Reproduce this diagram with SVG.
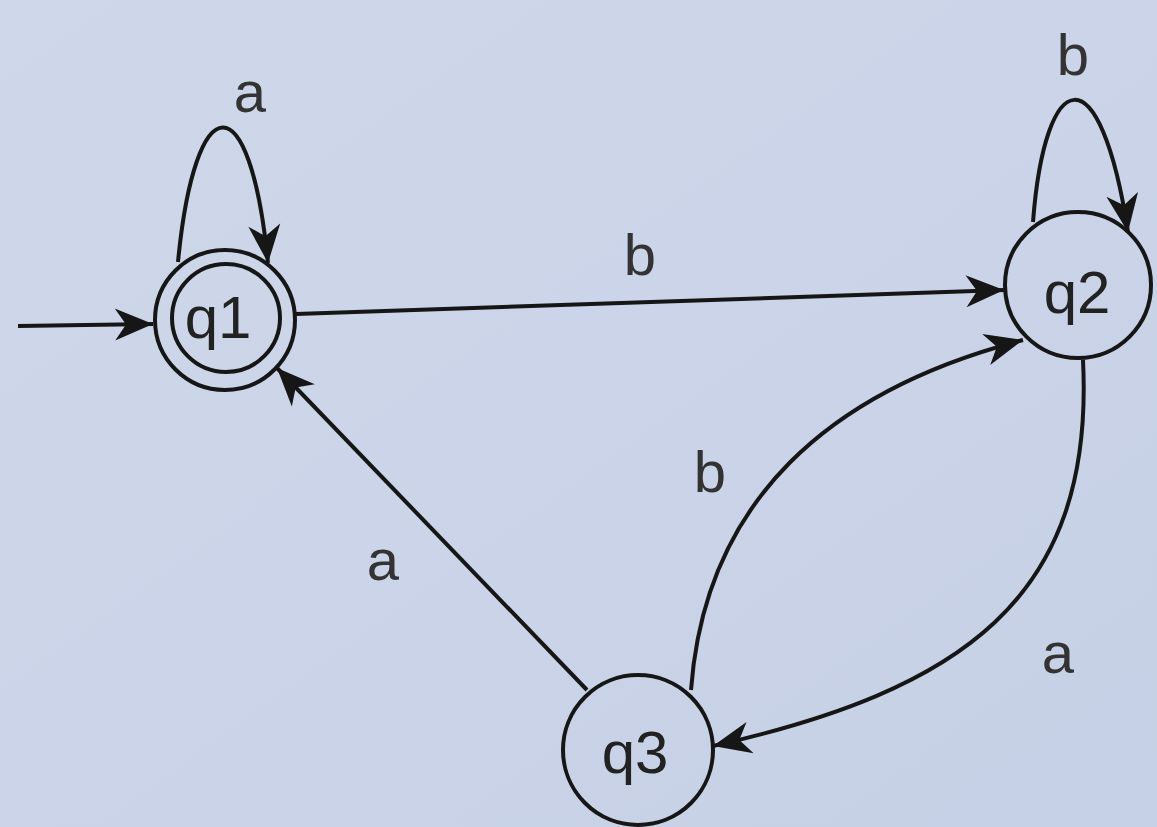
<svg xmlns="http://www.w3.org/2000/svg" width="1157" height="827" viewBox="0 0 1157 827">
<defs>
<linearGradient id="bg" x1="0" y1="0" x2="1" y2="1">
<stop offset="0" stop-color="#cfd8ea"/>
<stop offset="0.5" stop-color="#cbd4e8"/>
<stop offset="1" stop-color="#c6d0e6"/>
</linearGradient>
<marker id="arr" viewBox="-40 -18 42 36" refX="0" refY="0" markerWidth="42" markerHeight="36" markerUnits="userSpaceOnUse" orient="auto">
<path d="M0,0 L-38,-16 L-27,0 L-38,16 Z" fill="#161616"/>
</marker>
<style>
.st{fill:none;stroke:#161616;stroke-width:4}
.ed{fill:none;stroke:#161616;stroke-width:4;marker-end:url(#arr)}
.lb{font-family:"Liberation Sans",Arial,sans-serif;font-size:60px;fill:#222;text-anchor:middle}
.el{font-family:"Liberation Sans",Arial,sans-serif;font-size:58px;fill:#333;text-anchor:middle}
</style>
</defs>
<rect width="1157" height="827" fill="url(#bg)"/>
<g id="edges">
<path class="ed" d="M18,326 L153,324"/>
<path class="ed" d="M178,262 C195,85 250,80 268,263"/>
<path class="ed" d="M1033,222 C1045,65 1100,50 1128,232"/>
<path class="ed" d="M296,314 L1004,290"/>
<path class="ed" d="M587,690 L277,368"/>
<path class="ed" d="M691,690 C705,500 830,390 1023,340"/>
<path class="ed" d="M1083,360 C1095,600 960,690 713,746"/>
<text class="el" x="250" y="112">a</text>
<text class="el" x="1073" y="75">b</text>
<text class="el" x="640" y="275">b</text>
<text class="el" x="383" y="580">a</text>
<text class="el" x="710" y="492">b</text>
<text class="el" x="1058" y="673">a</text>
</g>
<g id="q1">
<circle class="st" cx="225" cy="320" r="70"/>
<circle class="st" cx="226" cy="318" r="54"/>
<text class="lb" x="218" y="338">q1</text>
</g>
<g id="q2">
<circle class="st" cx="1078" cy="285" r="73"/>
<text class="lb" x="1077" y="313">q2</text>
</g>
<g id="q3">
<circle class="st" cx="638" cy="750" r="75"/>
<text class="lb" x="635" y="773">q3</text>
</g>
</svg>
